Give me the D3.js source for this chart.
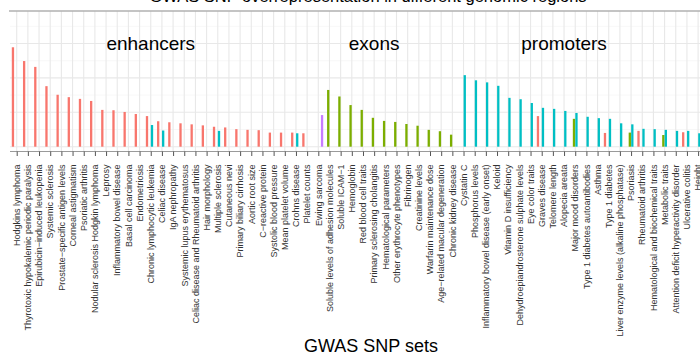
<!DOCTYPE html>
<html>
<head>
<meta charset="utf-8">
<script src="https://cdn.jsdelivr.net/npm/d3@7"></script>
<style>
  html, body { margin: 0; padding: 0; background: #fff; }
  svg { display: block; font-family: "Liberation Sans", Arial, Helvetica, sans-serif; }
</style>
</head>
<body>
<svg id="chart" width="700" height="356"></svg>
<script>
const categories = [
  "Hodgkins lymphoma", "Thyrotoxic hypokalemic periodic paralysis", "Epirubicin\u2212induced leukopenia",
  "Systemic sclerosis", "Prostate\u2212specific antigen levels", "Corneal astigmatism", "Psoriatic arthritis",
  "Nodular sclerosis Hodgkin lymphoma", "Leprosy", "Inflammatory bowel disease", "Basal cell carcinoma",
  "Endometriosis", "Chronic lymphocytic leukemia", "Celiac disease", "IgA nephropathy",
  "Systemic lupus erythematosus", "Celiac disease and Rheumatoid arthritis", "Hair morphology",
  "Multiple sclerosis", "Cutaneous nevi", "Primary biliary cirrhosis", "Aortic root size",
  "C\u2212reactive protein", "Systolic blood pressure", "Mean platelet volume", "Crohns disease",
  "Platelet counts", "Ewing sarcoma", "Soluble levels of adhesion molecules", "Soluble ICAM\u22121",
  "Hemoglobin", "Red blood cell traits", "Primary sclerosing cholangitis", "Hematological parameters",
  "Other erythrocyte phenotypes", "Fibrinogen", "Creatinine levels", "Warfarin maintenance dose",
  "Age\u2212related macular degeneration", "Chronic kidney disease", "Cystatin C", "Phosphorus levels",
  "Inflammatory bowel disease (early onset)", "Keloid", "Vitamin D insufficiency",
  "Dehydroepiandrosterone sulphate levels", "Eye color traits", "Graves disease", "Telomere length",
  "Alopecia areata", "Major mood disorders", "Type 1 diabetes autoantibodies", "Asthma",
  "Type 1 diabetes", "Liver enzyme levels (alkaline phosphatase)", "Psoriasis", "Rheumatoid arthritis",
  "Hematological and biochemical traits", "Metabolic traits", "Attention deficit hyperactivity disorder",
  "Ulcerative colitis", "Height"
];

const series = ["enhancers", "exons", "promoters", "other"];
const seriesColors = ["#F8766D", "#7CAE00", "#00BFC4", "#C77CFF"];

// values per category (null = no bar)
const enhancers = [
  2.89, 2.49, 2.32, 1.76, 1.51, 1.44, 1.39, 1.33, 1.07, 1.06, 1.01, 0.95, 0.89, 0.74, 0.71, 0.68,
  0.65, 0.62, 0.58, 0.56, 0.51, 0.49, 0.48, 0.41, 0.41, 0.41, 0.39, null, null, null,
  null, null, null, null, null, null, null, null, null, null, null, null, null, null, null,
  null, null, 0.89, null, null, null, null, null, 0.40, null, null, 0.46, null, null, null,
  0.42, null
];
const exons = [
  null, null, null, null, null, null, null, null, null, null, null, null, null, null, null, null,
  null, null, null, null, null, null, null, null, null, null, null, null, 1.65, 1.46,
  1.21, 1.07, 0.84, 0.75, 0.72, 0.66, 0.61, 0.49, 0.45, 0.35, null, null, null, null, null,
  null, null, null, null, null, 0.81, null, null, null, null, 0.41, null, null, 0.34, null,
  null, null
];
const promoters = [
  null, null, null, null, null, null, null, null, null, null, null, null, 0.63, 0.47, null, null,
  null, null, 0.46, null, null, null, null, null, null, 0.39, null, null, null, null,
  null, null, null, null, null, null, null, null, null, null, 2.08, 1.93, 1.87, 1.77, 1.42,
  1.38, 1.27, 1.13, 1.10, 1.04, 0.98, 0.87, 0.83, 0.81, 0.68, 0.65, 0.52, 0.51, 0.49, 0.46,
  0.46, 0.39
];
const other = [
  null, null, null, null, null, null, null, null, null, null, null, null, null, null, null, null,
  null, null, null, null, null, null, null, null, null, null, null, 0.92, null, null,
  null, null, null, null, null, null, null, null, null, null, null, null, null, null, null,
  null, null, null, null, null, null, null, null, null, null, null, null, null, null, null,
  null, null
];

const yMajor = [0, 1, 2, 3];
const yMinor = [0.5, 1.5, 2.5, 3.5];

const labels = [
  { text: "enhancers", cat: "Chronic lymphocytic leukemia", y: 3 },
  { text: "exons", cat: "Primary sclerosing cholangitis", y: 3 },
  { text: "promoters", cat: "Alopecia areata", y: 3 }
];
const title = "GWAS SNP overrepresentation in different genomic regions";
const xTitle = "GWAS SNP sets";

const svg = d3.select("#chart");
const W = 700, H = 356;
const panel = { left: 10, top: 11, bottom: 151.5, right: 733 };

const x = d3.scalePoint().domain(categories).range([10, 704.8]).padding(0.6);
const dodge = d3.scaleBand().domain(series).range([-5, 5]);
const y = d3.scaleLinear().domain([0, 3]).range([146.7, 43.5]);

// title (cropped at top)
svg.append("text").attr("x", 368).attr("y", 2).attr("text-anchor", "middle")
  .attr("font-size", 16.5).attr("fill", "#000").text(title);

// panel background
svg.append("rect").attr("x", panel.left).attr("y", panel.top)
  .attr("width", panel.right - panel.left).attr("height", panel.bottom - panel.top).attr("fill", "#fff");

// grid
const g = svg.append("g");
g.selectAll(".ymin").data(yMinor).enter().append("line")
  .attr("x1", panel.left).attr("x2", panel.right).attr("y1", d => y(d)).attr("y2", d => y(d))
  .attr("stroke", "#f2f2f2").attr("stroke-width", 0.6);
g.selectAll(".ymaj").data(yMajor).enter().append("line")
  .attr("x1", panel.left).attr("x2", panel.right).attr("y1", d => y(d)).attr("y2", d => y(d))
  .attr("stroke", "#e8e8e8").attr("stroke-width", 1.1);
g.selectAll(".xmaj").data(categories).enter().append("line")
  .attr("x1", d => x(d)).attr("x2", d => x(d)).attr("y1", panel.top).attr("y2", panel.bottom)
  .attr("stroke", "#e8e8e8").attr("stroke-width", 1.1);

// bars
const allSeries = [enhancers, exons, promoters, other];
const bw = 2.3;
series.forEach((s, si) => {
  const data = categories.map((c, i) => ({ c, v: allSeries[si][i] })).filter(d => d.v != null);
  svg.append("g").selectAll("rect").data(data).enter().append("rect")
    .attr("x", d => x(d.c) + dodge(s) + dodge.bandwidth() / 2 - bw / 2)
    .attr("width", bw)
    .attr("y", d => y(d.v))
    .attr("height", d => y(0) - y(d.v))
    .attr("fill", seriesColors[si]);
});

// panel top border
svg.append("line").attr("x1", panel.left - 1).attr("x2", panel.right).attr("y1", panel.top).attr("y2", panel.top)
  .attr("stroke", "#b0b0b0").attr("stroke-width", 1.4);

// x axis
const axisG = svg.append("g").attr("transform", `translate(0,${panel.bottom})`);
axisG.append("line").attr("x1", panel.left).attr("x2", panel.right).attr("y1", 0).attr("y2", 0)
  .attr("stroke", "#9a9a9a").attr("stroke-width", 1);
const xAxis = d3.axisBottom(x).tickSize(4.5).tickSizeOuter(0).tickFormat("");
const ax = svg.append("g").attr("transform", `translate(0,${panel.bottom})`).call(xAxis);
ax.select(".domain").remove();
ax.selectAll(".tick line").attr("stroke", "#555").attr("stroke-width", 1);

svg.append("g").selectAll("text").data(categories).enter().append("text")
  .attr("transform", d => `translate(${x(d)},164.5) rotate(-90)`)
  .attr("text-anchor", "end").attr("dy", "0.36em")
  .attr("font-size", 9).attr("fill", "#333").text(d => d);

// region annotations
svg.append("g").selectAll("text").data(labels).enter().append("text")
  .attr("x", d => x(d.cat)).attr("y", d => y(d.y)).attr("dy", "0.36em")
  .attr("text-anchor", "middle").attr("font-size", 19).attr("fill", "#000").text(d => d.text);

// x title
svg.append("text").attr("x", 371).attr("y", 351.5).attr("text-anchor", "middle")
  .attr("font-size", 18).attr("fill", "#000").text(xTitle);
</script>
</body>
</html>
